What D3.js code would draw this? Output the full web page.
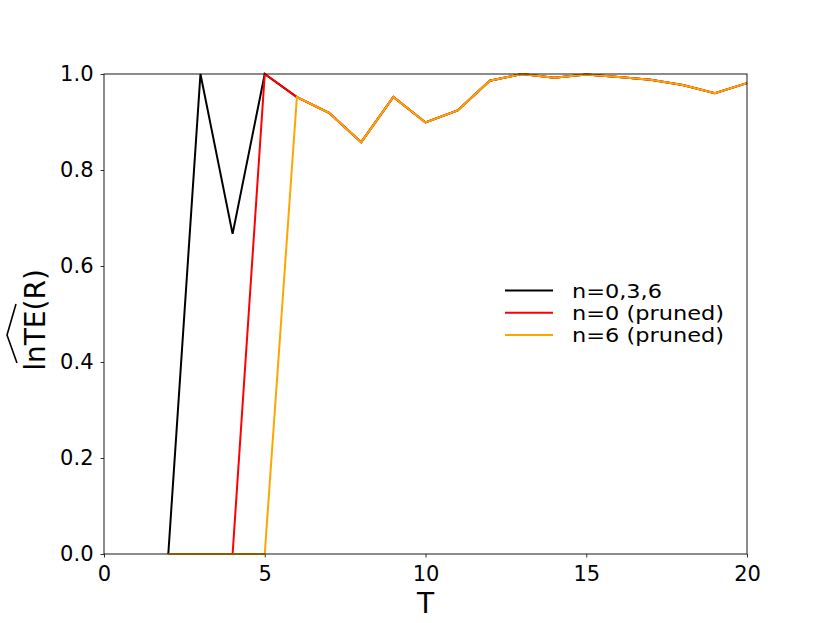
<!DOCTYPE html>
<html><head><meta charset="utf-8">
<script src="https://cdn.jsdelivr.net/npm/d3@7"></script>
<style>body{margin:0;background:#fff}svg{display:block}text{font-family:"DejaVu Sans",sans-serif}</style>
</head><body><svg id="c" width="830" height="623"></svg>
<script>
const T = [2,3,4,5,6,7,8,9,10,11,12,13,14,15,16,17,18,19,20];
const blackVals  = [0,1.0,0.667,1.0,0.952,0.919,0.858,0.952,0.899,0.924,0.986,1.0,0.992,0.999,0.994,0.988,0.977,0.960,0.981];
const redVals    = [0,0,0,1.0,0.952,0.919,0.858,0.952,0.899,0.924,0.986,1.0,0.992,0.999,0.994,0.988,0.977,0.960,0.981];
const orangeVals = [0,0,0,0,0.952,0.919,0.858,0.952,0.899,0.924,0.986,1.0,0.992,0.999,0.994,0.988,0.977,0.960,0.981];
const seriesNames = ["n=0,3,6","n=0 (pruned)","n=6 (pruned)"];
const seriesColors = ["#000000","#ff0000","#ffa500"];
const xTicks = [0,5,10,15,20];
const yTicks = [0,0.2,0.4,0.6,0.8,1.0];

const svg = d3.select("#c");
const L=104,R=747,Tp=74,B=554;
const x = d3.scaleLinear().domain([0,20]).range([L,R]);
const y = d3.scaleLinear().domain([0,1]).range([B,Tp]);

const xAxis = svg.append("g").attr("transform",`translate(0,${B})`)
  .call(d3.axisBottom(x).tickValues(xTicks).tickSize(3.5).tickPadding(8.5).tickFormat(d3.format("d")));
const yAxis = svg.append("g").attr("transform",`translate(${L},0)`)
  .call(d3.axisLeft(y).tickValues(yTicks).tickSize(3.5).tickPadding(7).tickFormat(d3.format(".1f")));
[xAxis,yAxis].forEach(a=>{
  a.select(".domain").remove();
  a.selectAll("line").attr("stroke","#000").attr("stroke-width",0.8);
  a.selectAll("text").attr("font-size",21).attr("fill","#000").attr("font-family","DejaVu Sans");
});

const all = [blackVals, redVals, orangeVals];
const line = d3.line().x((d,i)=>x(T[i])).y(d=>y(d));
all.forEach((vals,k)=>{
  svg.append("path").datum(vals).attr("d",line).attr("fill","none")
    .attr("stroke",seriesColors[k]).attr("stroke-width",2).attr("stroke-linejoin","miter");
});

svg.append("rect").attr("x",L).attr("y",Tp).attr("width",R-L).attr("height",B-Tp)
  .attr("fill","none").attr("stroke","#000").attr("stroke-width",0.9);

// axis labels
svg.append("text").attr("x",(L+R)/2).attr("y",613).attr("text-anchor","middle")
  .attr("font-size",28).text("T");
svg.append("text").attr("transform","translate(45,320) rotate(-90)").attr("text-anchor","middle")
  .attr("font-size",28).text("lnTE(R)");
// wide hat over "lnTE"
svg.append("path").attr("d","M16,304 L7,335 L17,363").attr("fill","none").attr("stroke","#000").attr("stroke-width",1.6);

// legend
const lg = svg.append("g");
const legendWidths = [90,152,152];
seriesNames.forEach((n,i)=>{
  const yy = 290.5 + i*22.2;
  lg.append("line").attr("x1",505).attr("x2",553).attr("y1",yy).attr("y2",yy)
    .attr("stroke",seriesColors[i]).attr("stroke-width",2);
  lg.append("text").attr("x",572).attr("y",yy+7.5).attr("font-size",19)
    .attr("textLength",legendWidths[i]).attr("lengthAdjust","spacingAndGlyphs").text(n);
});
</script></body></html>
